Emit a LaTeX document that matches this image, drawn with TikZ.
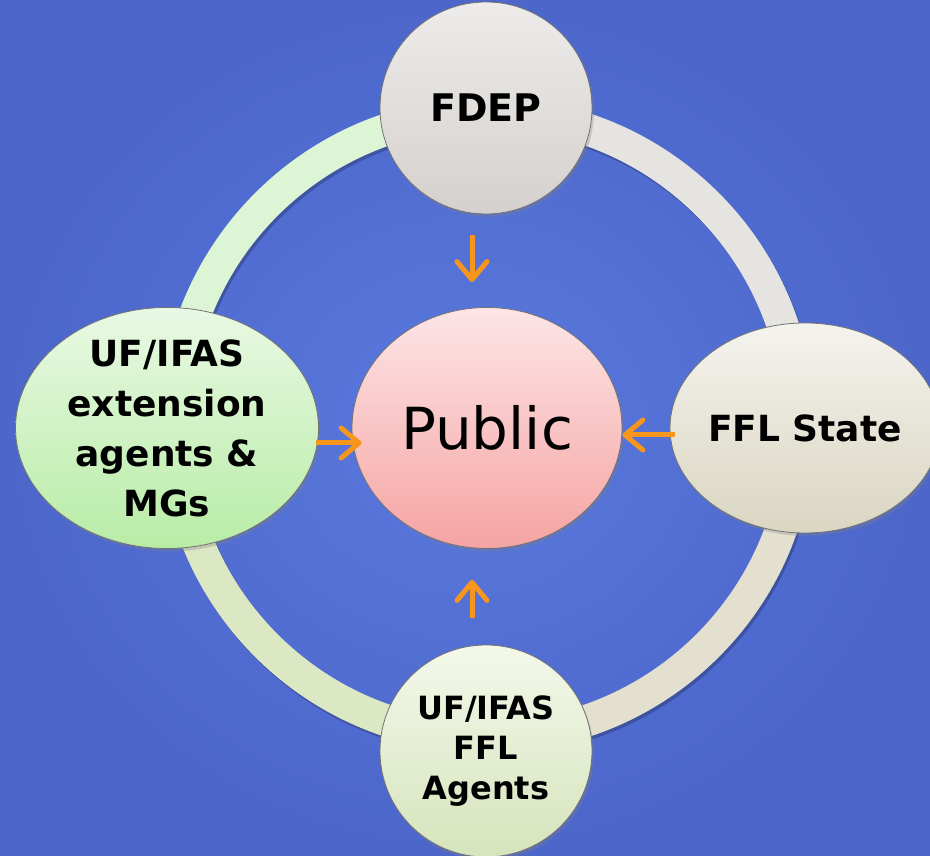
\documentclass[tikz,border=0pt]{standalone}
\usepackage{fontspec}
\setmainfont{DejaVu Sans}
\usepackage{tikz}
\usetikzlibrary{shapes.geometric, arrows.meta, shadows}

\definecolor{bgin}{HTML}{5A79DE}
\definecolor{bgout}{HTML}{4C66CA}
\definecolor{arrowc}{HTML}{F7961D}
\definecolor{ringtl}{HTML}{DCF5D4}
\definecolor{ringtr}{HTML}{E6E4E1}
\definecolor{ringbr}{HTML}{E3E0CF}
\definecolor{ringbl}{HTML}{DCE7C3}
\definecolor{fdtop}{HTML}{EDECEA}
\definecolor{fdbot}{HTML}{D4D0CD}
\definecolor{exttop}{HTML}{E9F9E4}
\definecolor{extbot}{HTML}{B8ECA6}
\definecolor{ffltop}{HTML}{F4F3EE}
\definecolor{fflbot}{HTML}{DAD6C2}
\definecolor{pubtop}{HTML}{FDE5E7}
\definecolor{pubbot}{HTML}{F5A4A2}
\definecolor{agtop}{HTML}{F3F8EA}
\definecolor{agbot}{HTML}{D6E4BC}

\begin{document}
\begin{tikzpicture}[x=1pt, y=1pt,
  blob/.style={draw=black!55, line width=0.8pt, inner sep=0pt,
    drop shadow={opacity=0.3, shadow xshift=2pt, shadow yshift=-3pt}},
  lab/.style={align=center, font=\bfseries\fontsize{36}{50}\selectfont},
  ring/.style={line width=32pt},
  flow/.style={draw=arrowc, line width=5pt,
    -{Straight Barb[length=18pt, width=30pt, round]}}]
% ring of partners round the public
\clip (0,0) rectangle (930,856);
\shade[inner color=bgin, outer color=bgout] (0,0) rectangle (930,856);

\draw[ring, black, opacity=0.22] (489,428) circle[radius=312];
\draw[ring, ringtl] (487,431) ++(90:312) arc[start angle=90, end angle=180, radius=312];
\draw[ring, ringtr] (487,431) ++(0:312) arc[start angle=0, end angle=90, radius=312];
\draw[ring, ringbr] (487,431) ++(270:312) arc[start angle=270, end angle=360, radius=312];
\draw[ring, ringbl] (487,431) ++(180:312) arc[start angle=180, end angle=270, radius=312];

\node[blob, circle, minimum size=212pt, top color=fdtop, bottom color=fdbot] (fdep) at (486,748) {};
\node[blob, ellipse, minimum width=303pt, minimum height=241pt, top color=exttop, bottom color=extbot] (ext) at (167,428) {};
\node[blob, ellipse, minimum width=270pt, minimum height=210pt, top color=ffltop, bottom color=fflbot] (ffl) at (805,428) {};
\node[blob, ellipse, minimum width=270pt, minimum height=241pt, top color=pubtop, bottom color=pubbot] (public) at (487,428) {};
\node[blob, circle, minimum size=212pt, top color=agtop, bottom color=agbot] (agents) at (486,105) {};

\node[lab, font=\bfseries\fontsize{38}{50}\selectfont] (fdep-t) at (fdep) {FDEP};
\node[lab] (ext-t) at (ext) {UF/IFAS\\extension\\agents \&\\MGs};
\node[lab] (ffl-t) at (ffl) {FFL State};
\node[font=\fontsize{58}{60}\selectfont] (public-t) at (public) {Public};
\node[lab, font=\bfseries\fontsize{32}{40}\selectfont] (agents-t) at (agents) {UF/IFAS\\FFL\\Agents};

\draw[flow, shorten <=21pt, shorten >=25pt] ([xshift=-14pt]fdep.south) -- ([xshift=-14pt]fdep.south |- public.north);
\draw[flow, shorten <=27pt, shorten >=31pt] ([xshift=-14pt]agents.north) -- ([xshift=-14pt]agents.north |- public.south);
\draw[flow, shorten <=-3pt, shorten >=-10pt] ([yshift=-15pt]ext.east) -- ([yshift=-15pt]ext.east -| public.west);
\draw[flow, shorten <=-5pt] ([yshift=-7pt]ffl.west) -- ([yshift=-7pt]ffl.west -| public.east);
\end{tikzpicture}
\end{document}
